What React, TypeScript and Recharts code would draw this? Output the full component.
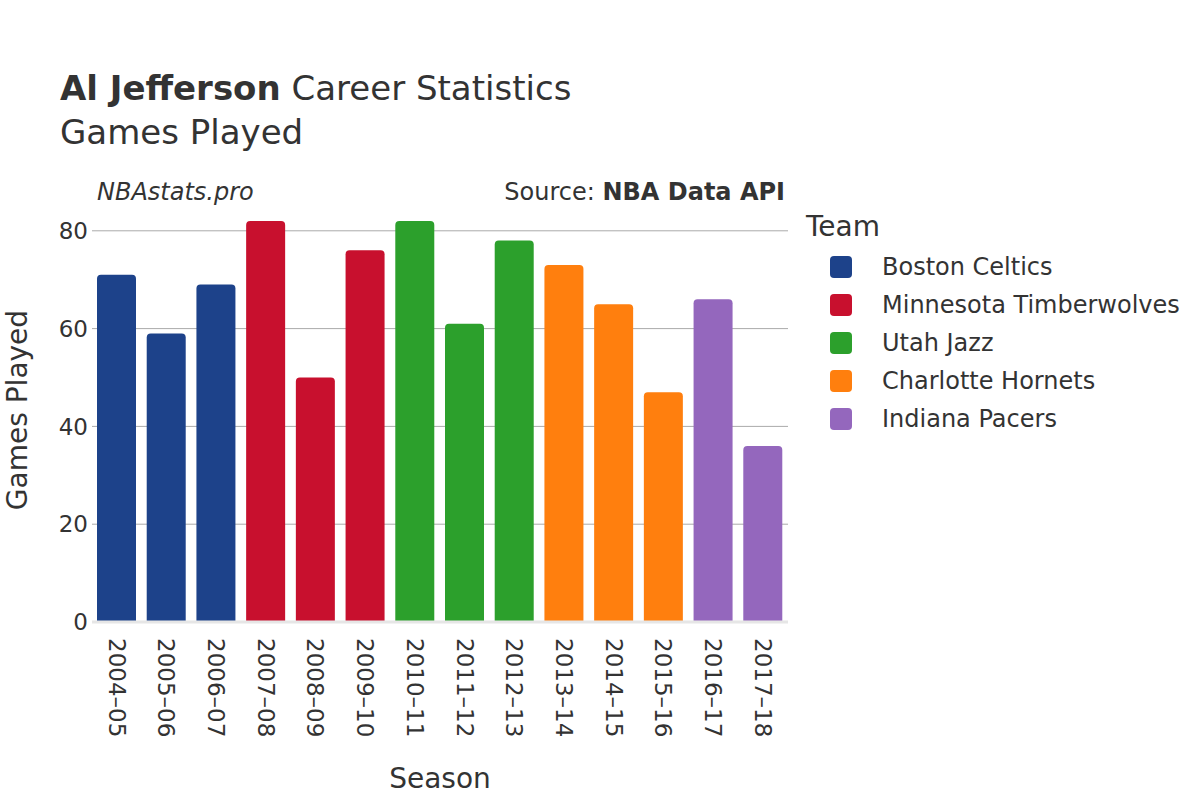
import { BarChart, Bar, XAxis, YAxis, CartesianGrid, Cell, ReferenceLine, Label } from "recharts";

const seasons = [
  "2004–05", "2005–06", "2006–07", "2007–08", "2008–09", "2009–10", "2010–11",
  "2011–12", "2012–13", "2013–14", "2014–15", "2015–16", "2016–17", "2017–18",
];
const gamesPlayed = [71, 59, 69, 82, 50, 76, 82, 61, 78, 73, 65, 47, 66, 36];
const seasonTeams = [
  "Boston Celtics", "Boston Celtics", "Boston Celtics",
  "Minnesota Timberwolves", "Minnesota Timberwolves", "Minnesota Timberwolves",
  "Utah Jazz", "Utah Jazz", "Utah Jazz",
  "Charlotte Hornets", "Charlotte Hornets", "Charlotte Hornets",
  "Indiana Pacers", "Indiana Pacers",
];
const teams = ["Boston Celtics", "Minnesota Timberwolves", "Utah Jazz", "Charlotte Hornets", "Indiana Pacers"];
const teamColors = ["#1d428a", "#c8102e", "#2ca02c", "#ff7f0e", "#9467bd"];
const yTicks = [0, 20, 40, 60, 80];

const data = seasons.map((season, i) => ({ season, games: gamesPlayed[i], team: seasonTeams[i] }));

const FONT = "'DejaVu Sans', sans-serif";
const TEXT = "#333";

function SeasonTick({ x, y, payload }: any) {
  return (
    <g transform={`translate(${x},${y + 8}) rotate(90)`}>
      <text textAnchor="start" dy="0.36em" fill={TEXT} fontSize={23} fontFamily={FONT}>
        {payload.value}
      </text>
    </g>
  );
}

export default function App() {
  return (
    <div style={{ position: "absolute", left: 0, top: 0, width: 1200, height: 800, background: "#fff", fontFamily: FONT, color: TEXT }}>
      <BarChart
        width={1200}
        height={800}
        data={data}
        margin={{ top: 200, right: 412, bottom: 8, left: 32 }}
        barSize={39}
      >
        <CartesianGrid vertical={false} stroke="#aaa" strokeWidth={1} horizontalValues={[20, 40, 60, 80]} />
        <XAxis
          dataKey="season"
          interval={0}
          height={170}
          tickLine={false}
          axisLine={false}
          tick={<SeasonTick />}
        >
          <Label value="Season" position="insideBottom" offset={4} fill={TEXT} fontSize={28} fontFamily={FONT} />
        </XAxis>
        <YAxis
          width={60}
          domain={[0, 86.3]}
          ticks={yTicks}
          tickLine={false}
          axisLine={false}
          tickSize={0}
          tickMargin={4}
          tick={{ fill: TEXT, fontSize: 23, fontFamily: FONT }}
        />
        <ReferenceLine y={0} stroke="#e6e6e6" strokeWidth={3} />
        <Bar dataKey="games" radius={[4, 4, 0, 0]} isAnimationActive={false}>
          {data.map((d, i) => (
            <Cell key={i} fill={teamColors[teams.indexOf(d.team)]} />
          ))}
        </Bar>
      </BarChart>

      <div style={{ position: "absolute", left: 60, top: 68, fontSize: 34, whiteSpace: "nowrap" }}>
        <b>Al Jefferson</b> Career Statistics
      </div>
      <div style={{ position: "absolute", left: 60, top: 112, fontSize: 34 }}>Games Played</div>
      <div style={{ position: "absolute", left: 97, top: 178, fontSize: 24, fontStyle: "italic" }}>NBAstats.pro</div>
      <div style={{ position: "absolute", right: 1200 - 785, top: 178, fontSize: 24, whiteSpace: "nowrap" }}>
        Source: <b>NBA Data API</b>
      </div>
      <div
        style={{
          position: "absolute",
          left: 17,
          top: 410,
          fontSize: 28,
          whiteSpace: "nowrap",
          transform: "translate(-50%, -50%) rotate(-90deg)",
        }}
      >
        Games Played
      </div>

      <div style={{ position: "absolute", left: 806, top: 210, fontSize: 28 }}>Team</div>
      {teams.map((t, i) => (
        <div key={t} style={{ position: "absolute", left: 830, top: 255 + i * 38, height: 24, display: "flex", alignItems: "center", whiteSpace: "nowrap" }}>
          <span style={{ width: 22, height: 22, borderRadius: 4, background: teamColors[i], display: "inline-block" }} />
          <span style={{ marginLeft: 30, fontSize: 24 }}>{t}</span>
        </div>
      ))}
    </div>
  );
}
